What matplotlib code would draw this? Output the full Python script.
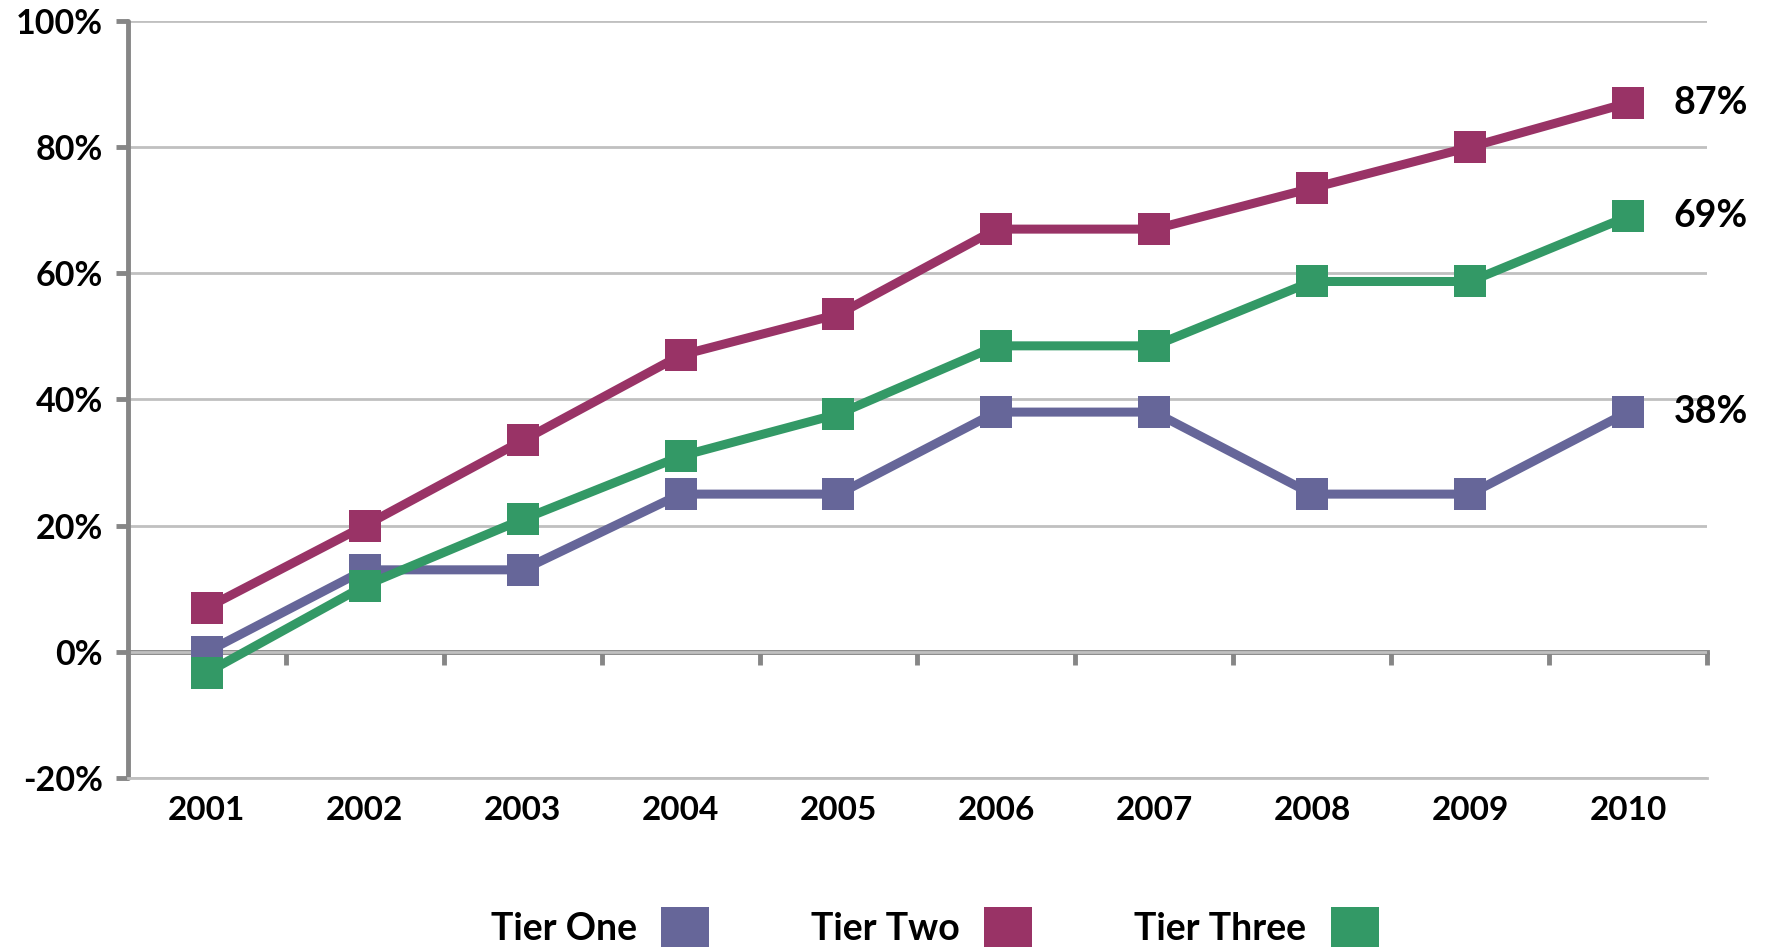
import matplotlib
matplotlib.use("Agg")
import matplotlib.pyplot as plt
import numpy as np
from matplotlib.patches import Patch

plt.rcParams["font.family"] = ["Lato", "DejaVu Sans"]
plt.rcParams["font.weight"] = "bold"

# Yearly values, in percent
years = ["2001", "2002", "2003", "2004", "2005", "2006", "2007", "2008", "2009", "2010"]
tier_one = [0, 13, 13, 25, 25, 38, 38, 25, 25, 38]
tier_two = [7, 20, 33.5, 47, 53.5, 67, 67, 73.5, 80, 87]
tier_three = [-3.3, 10.5, 21, 31, 37.7, 48.5, 48.5, 58.7, 58.7, 69]

series_names = ["Tier One", "Tier Two", "Tier Three"]
series_values = [tier_one, tier_two, tier_three]
series_colors = ["#666699", "#993366", "#339966"]

AXIS_GRAY = "#868686"
GRID_GRAY = "#c0c0c0"

fig = plt.figure(figsize=(17.67, 9.5), dpi=100)
ax = fig.add_axes([0.0724, 0.181, 0.8936, 0.797])

x = np.arange(len(years))
for name, vals, col in zip(series_names, series_values, series_colors):
    ax.plot(x, vals, color=col, lw=6.5, marker="s", ms=22.5, mew=0,
            solid_joinstyle="round", label=name, zorder=3, clip_on=False)
    # value label at the last point
    ax.annotate(f"{vals[-1]:.0f}%", (x[-1], vals[-1]), xytext=(33, 0),
                textcoords="offset points", ha="left", va="center",
                fontsize=27, fontweight="bold", color="black")

ax.set_xlim(-0.5, len(years) - 0.5)
ax.set_ylim(-20, 100)

# y axis
yt = np.arange(-20, 101, 20)
ax.set_yticks(yt)
ax.set_yticklabels([f"{v}%" for v in yt])
ax.tick_params(axis="y", direction="out", length=9, width=3.5, color=AXIS_GRAY,
               pad=9, labelsize=24.5)
for t in ax.yaxis.get_ticklines():
    t.set_solid_capstyle("round")
ax.grid(axis="y", color=GRID_GRAY, lw=2)
ax.set_axisbelow(True)

# category labels along the bottom
ax.set_xticks(x)
ax.set_xticklabels(years)
ax.tick_params(axis="x", length=0, pad=13, labelsize=24)

ax.spines["top"].set_visible(False)
ax.spines["right"].set_visible(False)
ax.spines["left"].set_color(AXIS_GRAY)
ax.spines["left"].set_linewidth(3.5)
ax.spines["left"].set_capstyle("round")
ax.spines["bottom"].set_color(GRID_GRAY)
ax.spines["bottom"].set_linewidth(2)

# zero line with ticks between categories
zero = ax.secondary_xaxis((0 - (-20)) / 120)
zero.set_xticks(np.arange(0.5, len(years), 1))
zero.set_xticklabels([])
zero.tick_params(axis="x", direction="out", length=9, width=3.5, color=AXIS_GRAY)
zero.spines["bottom"].set_color(AXIS_GRAY)
zero.spines["bottom"].set_linewidth(3.5)
for t in zero.xaxis.get_ticklines():
    t.set_solid_capstyle("round")

handles = [Patch(facecolor=c, edgecolor="none", label=n)
           for n, c in zip(series_names, series_colors)]
fig.legend(handles=handles, loc="center", bbox_to_anchor=(0.529, 0.024),
           ncol=3, frameon=False, markerfirst=False, fontsize=27,
           handlelength=1.28, handleheight=1.28, handletextpad=0.65,
           columnspacing=2.72, borderpad=0)

fig.savefig("out.png", dpi=100)
